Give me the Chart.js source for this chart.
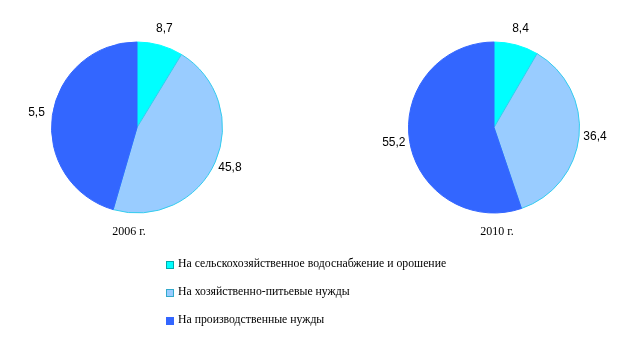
<!DOCTYPE html>
<html>
<head>
<meta charset="utf-8">
<script src="https://cdn.jsdelivr.net/npm/chart.js@4"></script>
<style>
  body { margin: 0; background: #fff; }
  #wrap { position: relative; width: 637px; height: 351px; }
  #wrap canvas { position: absolute; left: 0; top: 0; }
  .legend { position: absolute; left: 166px; top: 257px; font: 11.75px "Liberation Serif", "Times New Roman", serif; color: #000; }
  .legend div { height: 28px; display: flex; align-items: flex-start; }
  .legend span.box { width: 6px; height: 6px; margin: 4px 4px 0 0; border: 1px solid; flex: none; }
</style>
</head>
<body>
<div id="wrap">
  <canvas id="pie2006" width="637" height="351"></canvas>
  <canvas id="pie2010" width="637" height="351"></canvas>
  <div class="legend" id="legend"></div>
</div>
<script>
const categories = [
  'На сельскохозяйственное водоснабжение и орошение',
  'На хозяйственно-питьевые нужды',
  'На производственные нужды'
];
const values2006 = [8.7, 45.8, 45.5];
const values2010 = [8.4, 36.4, 55.2];
// label text as printed on the picture
const labels2006 = ['8,7', '45,8', '5,5'];
const labels2010 = ['8,4', '36,4', '55,2'];
const years = ['2006 г.', '2010 г.'];

const fillColors = ['#00FFFF', '#99CCFF', '#3366FF'];
const edgeColors = ['#00FFFF', '#33CCEE', '#3366FF'];
const boxEdges = ['#00AAAA', '#33AACC', '#3366FF'];

const sliceLabels = {
  id: 'sliceLabels',
  afterDatasetsDraw(chart, args, opts) {
    const ctx = chart.ctx;
    const meta = chart.getDatasetMeta(0);
    ctx.save();
    ctx.fillStyle = '#000';
    ctx.textAlign = 'center';
    ctx.textBaseline = 'middle';
    ctx.font = '12px "Liberation Sans", Arial, sans-serif';
    let cx = 0, cy = 0, r = 0;
    meta.data.forEach((arc, i) => {
      const mid = (arc.startAngle + arc.endAngle) / 2;
      const d = arc.outerRadius + 16;
      ctx.fillText(opts.texts[i], arc.x + Math.cos(mid) * d, arc.y + Math.sin(mid) * d - 1);
      cx = arc.x; cy = arc.y; r = arc.outerRadius;
    });
    ctx.font = '12px "Liberation Serif", "Times New Roman", serif';
    ctx.fillText(opts.year, cx + opts.dx, cy + r + 19);
    ctx.restore();
  }
};

function makePie(id, values, texts, year, padding, dx) {
  return new Chart(document.getElementById(id), {
    type: 'pie',
    data: {
      labels: categories,
      datasets: [{
        data: values,
        backgroundColor: fillColors,
        borderColor: edgeColors,
        borderWidth: 1
      }]
    },
    options: {
      responsive: false,
      animation: false,
      layout: { padding },
      plugins: {
        legend: { display: false },
        tooltip: { enabled: false },
        sliceLabels: { texts, year, dx }
      }
    },
    plugins: [sliceLabels]
  });
}

makePie('pie2006', values2006, labels2006, years[0], { left: 51, top: 41, right: 414, bottom: 137 }, -8);
makePie('pie2010', values2010, labels2010, years[1], { left: 408, top: 41, right: 57, bottom: 137 }, 3);

const legend = document.getElementById('legend');
categories.forEach((c, i) => {
  const row = document.createElement('div');
  row.innerHTML = '<span class="box" style="background:' + fillColors[i] + ';border-color:' + boxEdges[i] + '"></span>' + c;
  legend.appendChild(row);
});
</script>
</body>
</html>
